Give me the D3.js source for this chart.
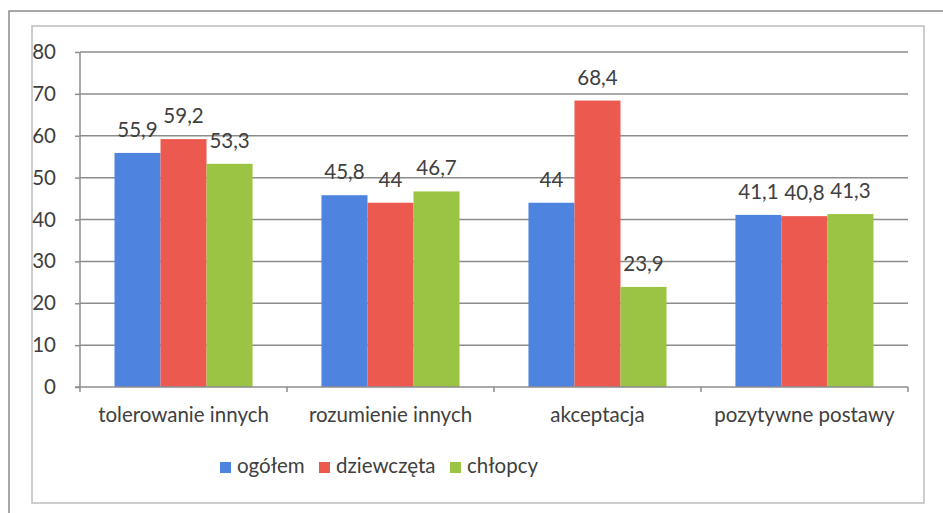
<!DOCTYPE html>
<html><head><meta charset="utf-8">
<script src="https://cdn.jsdelivr.net/npm/d3@7"></script>
<style>body{margin:0;background:#fff}svg{display:block}</style>
</head><body>
<svg id="c" width="943" height="513"></svg>
<script>
const categories = ["tolerowanie innych","rozumienie innych","akceptacja","pozytywne postawy"];
const seriesNames = ["ogółem","dziewczęta","chłopcy"];
const ogolem = [55.9, 45.8, 44, 41.1];
const dziewczeta = [59.2, 44, 68.4, 40.8];
const chlopcy = [53.3, 46.7, 23.9, 41.3];
const labels = [["55,9","45,8","44","41,1"],["59,2","44","68,4","40,8"],["53,3","46,7","23,9","41,3"]];
const yTicks = [0,10,20,30,40,50,60,70,80];
const colors = ["#4f83e0","#ec5a4f","#9cc444"];

(function(){
const series = [ogolem, dziewczeta, chlopcy];
const svg = d3.select("#c");
const font = "Lato, 'Open Sans', sans-serif";
const fs = 20.5;
const textCol = "#404040";

// frames
svg.append("rect").attr("x",9).attr("y",11).attr("width",960).attr("height",520)
  .attr("fill","#fff").attr("stroke","#8a8a8a").attr("stroke-width",1.5);
svg.append("rect").attr("x",32).attr("y",26).attr("width",892).attr("height",477)
  .attr("fill","#fff").attr("stroke","#bdbdbd").attr("stroke-width",1.5);

const pL = 80, pR = 908, pT = 52, pB = 387;
const y = d3.scaleLinear().domain([0,80]).range([pB, pT]);
const x0 = d3.scaleBand().domain(categories).range([pL, pR]).paddingInner(0.333).paddingOuter(0.1667);
const x1 = d3.scaleBand().domain(seriesNames).range([0, x0.bandwidth()]);

// gridlines
svg.append("g").selectAll("line").data(yTicks.filter(d=>d>0)).join("line")
  .attr("x1", pL).attr("x2", pR).attr("y1", d=>y(d)).attr("y2", d=>y(d))
  .attr("stroke","#8c8c8c").attr("stroke-width",1.5);

// y axis
const yAxis = d3.axisLeft(y).tickValues(yTicks).tickSize(5).tickPadding(19);
const gy = svg.append("g").attr("transform",`translate(${pL},0)`).call(yAxis);
gy.select(".domain").attr("stroke","#8c8c8c").attr("stroke-width",1.5).attr("d",`M0,${pT}V${pB}`);
gy.selectAll(".tick line").attr("stroke","#8c8c8c").attr("stroke-width",1.5);
gy.selectAll(".tick text").attr("font-family",font).attr("font-size",fs).attr("fill",textCol);

// bars
categories.forEach((c,i)=>{
  series.forEach((s,j)=>{
    const bx = x0(c)+x1(seriesNames[j]);
    svg.append("rect").attr("x",bx).attr("y",y(s[i])).attr("width",x1.bandwidth()).attr("height",pB-y(s[i]))
      .attr("fill",colors[j]);
    svg.append("text").attr("x",bx+x1.bandwidth()/2).attr("y",y(s[i])-16)
      .attr("text-anchor","middle").attr("font-family",font).attr("font-size",fs).attr("fill",textCol)
      .text(labels[j][i]);
  });
});

// x axis
const step = (pR-pL)/categories.length;
const gx = svg.append("g");
gx.append("line").attr("x1",pL-5).attr("x2",pR).attr("y1",pB).attr("y2",pB)
  .attr("stroke","#8c8c8c").attr("stroke-width",1.5);
gx.selectAll(".tk").data(d3.range(categories.length+1)).join("line")
  .attr("x1",d=>pL+d*step).attr("x2",d=>pL+d*step).attr("y1",pB).attr("y2",pB+5)
  .attr("stroke","#8c8c8c").attr("stroke-width",1.5);
gx.selectAll("text").data(categories).join("text")
  .attr("x",d=>x0(d)+x0.bandwidth()/2).attr("y",422)
  .attr("text-anchor","middle").attr("font-family",font).attr("font-size",fs).attr("fill",textCol)
  .text(d=>d);

// legend
const legX = [220, 319, 450];
seriesNames.forEach((n,j)=>{
  svg.append("rect").attr("x",legX[j]).attr("y",462).attr("width",11).attr("height",11).attr("fill",colors[j]);
  svg.append("text").attr("x",legX[j]+17).attr("y",473).attr("font-family",font).attr("font-size",fs)
    .attr("fill",textCol).text(n);
});
})();
</script>
</body></html>
